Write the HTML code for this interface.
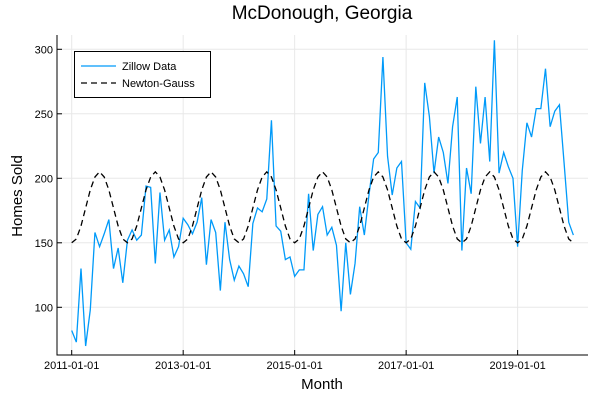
<!DOCTYPE html>
<html><head><meta charset="utf-8"><style>
body{margin:0;background:#fff;}
svg{display:block;font-family:"Liberation Sans",sans-serif;}
</style></head><body>
<svg id="chart" width="600" height="400">
<rect width="600" height="400" fill="#fff"/>
<text x="322" y="19" text-anchor="middle" font-size="19" fill="#000">McDonough, Georgia</text>
<g id="grid"></g>
<g id="series"></g>
<g id="axes"></g>
<text x="322" y="389" text-anchor="middle" font-size="15">Month</text>
<text x="22" y="196" text-anchor="middle" font-size="15" transform="rotate(-90 22 196)">Homes Sold</text>
<g>
<rect x="74.5" y="51.5" width="136" height="46" fill="#fff" stroke="#000" stroke-width="1"/>
<g>
<line x1="81" y1="66" x2="116" y2="66" stroke="#009af9" stroke-width="1.2"/>
<text x="122" y="70" font-size="11">Zillow Data</text></g>
<g>
<line x1="81" y1="83" x2="116" y2="83" stroke="#000" stroke-width="1.2" stroke-dasharray="6,4"/>
<text x="122" y="87" font-size="11">Newton-Gauss</text></g>
</g>
</svg>
<script>
const zillow=[82,73,130,70,98,158,147,157,168,130,146,119,152,160,152,156,194,193,134,189,152,160,139,147,169,164,157,166,185,133,168,158,113,166,137,121,132,126,116,165,177,174,184,245,163,159,137,139,124,129,129,188,144,172,178,156,162,148,97,150,110,134,178,156,187,215,220,294,217,187,208,213,150,145,182,177,274,248,204,232,220,196,240,263,144,208,188,271,227,263,213,307,204,220,209,200,147,206,243,232,254,254,285,240,252,257,212,166,156];
const fitCycle=[150,153,163,177,191,201,205,201,191,177,163,153];
const yTicks=[100,150,200,250,300];
const xTickLabels=["2011-01-01","2013-01-01","2015-01-01","2017-01-01","2019-01-01"];
const xTickMonths=[0,24,48,72,96];
const NS="http://www.w3.org/2000/svg";
const L=57,R=588,T=35,B=355;
function xs(i){return 71.7+i*4.645;}
function ys(v){return 307.3-(v-100)*1.29;}
function mk(tag,attrs,parent){const e=document.createElementNS(NS,tag);for(const k in attrs)e.setAttribute(k,attrs[k]);parent.appendChild(e);return e;}
const grid=document.getElementById('grid'),axes=document.getElementById('axes'),ser=document.getElementById('series');
yTicks.forEach(v=>{
 const g=mk('line',{x1:L,x2:R,y1:ys(v),y2:ys(v),stroke:'#e8e8e8','stroke-width':1},grid);
 
 
 const t=mk('line',{x1:L,x2:L+5,y1:ys(v),y2:ys(v),stroke:'#000'},axes);
 
 
 const tx=mk('text',{x:L-4,y:ys(v)+4,'text-anchor':'end','font-size':11},axes);tx.textContent=v;
 
 
});
xTickMonths.forEach((m,k)=>{
 const g=mk('line',{x1:xs(m),x2:xs(m),y1:T,y2:B,stroke:'#e8e8e8','stroke-width':1},grid);
 
 
 const t=mk('line',{x1:xs(m),x2:xs(m),y1:B,y2:B-5,stroke:'#000'},axes);
 
 
 const tx=mk('text',{x:xs(m),y:B+14,'text-anchor':'middle','font-size':11},axes);tx.textContent=xTickLabels[k];
 
 
});
const ax=mk('path',{d:`M${L},${T} L${L},${B} L${R},${B}`,fill:'none',stroke:'#000','stroke-width':1},axes);


const zp=mk('polyline',{points:zillow.map((v,i)=>xs(i)+','+ys(v)).join(' '),fill:'none',stroke:'#009af9','stroke-width':1.3},ser);


const fit=zillow.map((_,i)=>fitCycle[i%12]);
const fp=mk('polyline',{points:fit.map((v,i)=>xs(i)+','+ys(v)).join(' '),fill:'none',stroke:'#000','stroke-width':1.3,'stroke-dasharray':'6,4'},ser);


</script>
</body></html>
